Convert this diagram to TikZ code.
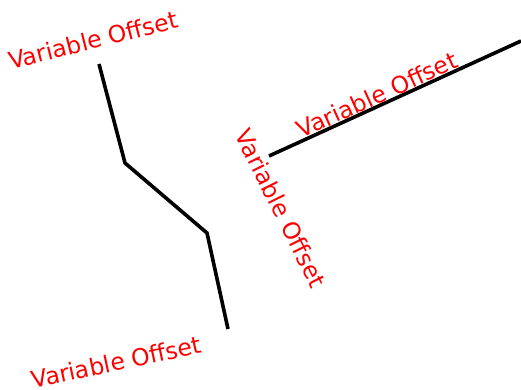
\documentclass[tikz,border=0pt]{standalone}
\usepackage{fontspec}
\setmainfont{DejaVu Sans}
\begin{document}
\begin{tikzpicture}[x=1pt,y=-1pt,
  lbl/.style={text=red,font=\fontsize{23.5}{28}\selectfont,inner sep=0pt,anchor=center},
  wire/.style={line width=3.6pt,black,line join=miter}]
\useasboundingbox (0,0) rectangle (521,389);
\coordinate (p1) at (99,64);
\coordinate (p2) at (125,163);
\coordinate (p3) at (207,233);
\coordinate (p4) at (228,329);
\coordinate (q1) at (269,156);
\coordinate (q2) at (521,41);
\draw[wire] (p1) -- (p2) -- (p3) -- (p4);
\draw[wire] (q1) -- (q2);
\node[lbl,rotate=14] (t1) at (93,40) {Variable Offset};
\node[lbl,rotate=12] (t4) at (116,362) {Variable Offset};
\node[lbl,rotate=24.5] (t2) at (377,95) {Variable Offset};
\node[lbl,rotate=-63.5] (t3) at (281,208) {Variable Offset};
\end{tikzpicture}
\end{document}
